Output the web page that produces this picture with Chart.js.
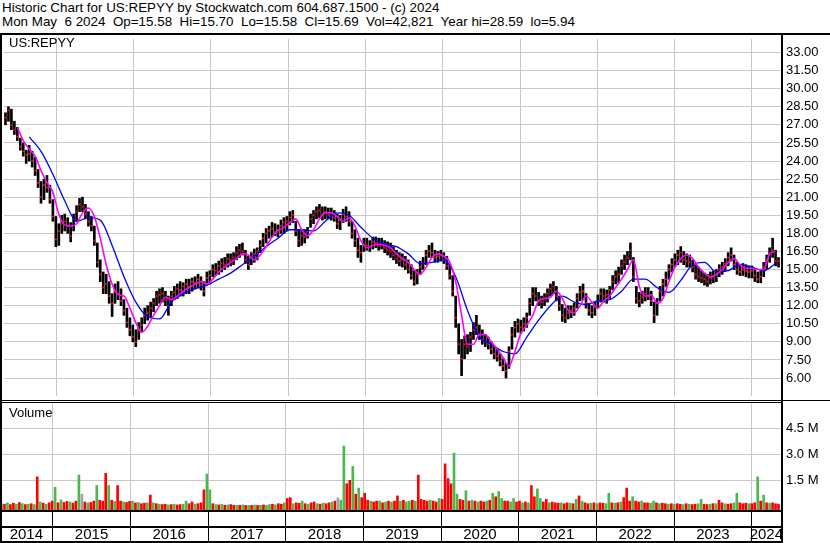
<!DOCTYPE html>
<html>
<head>
<meta charset="utf-8">
<script src="https://cdn.jsdelivr.net/npm/chart.js@4.4.1/dist/chart.umd.min.js"></script>
<style>
body { margin: 0; background: #fff; }
#box { position: relative; width: 830px; height: 543px; overflow: hidden; font-family: "Liberation Sans", Arial, sans-serif; color: #000; }
.t { position: absolute; font-size: 13px; white-space: pre; }
.k { position: absolute; background: #000; }
canvas { position: absolute; left: 0; }
</style>
</head>
<body>
<div id="box">
<canvas id="price" width="830" height="365" style="top:35px"></canvas>
<canvas id="vol" width="830" height="141" style="top:402px"></canvas>
<div class="t" style="left:2px;top:1px;line-height:14px;font-size:13.4px">Historic Chart for US:REPYY by Stockwatch.com 604.687.1500 - (c) 2024
Mon May  6 2024  Op=15.58  Hi=15.70  Lo=15.58  Cl=15.69  Vol=42,821  Year hi=28.59  lo=5.94</div>
<div class="t" style="left:9px;top:35px">US:REPYY</div>
<div class="t" style="left:9px;top:405px">Volume</div>
<div class="k" style="left:0;top:33px;width:830px;height:2px"></div>
<div class="k" style="left:0;top:400px;width:830px;height:1px"></div>
<div class="k" style="left:0;top:402px;width:782px;height:1px"></div>
<div class="k" style="left:0;top:33px;width:2px;height:510px"></div>
<div class="k" style="left:781px;top:33px;width:2px;height:510px"></div>
</div>
<script>
// Axis labels
const yearTicks = [2015, 2016, 2017, 2018, 2019, 2020, 2021, 2022, 2023, 2024];
const yearLabels = ["2014", "2015", "2016", "2017", "2018", "2019", "2020", "2021", "2022", "2023", "2024"];
const priceTicks = [6, 7.5, 9, 10.5, 12, 13.5, 15, 16.5, 18, 19.5, 21, 22.5, 24, 25.5, 27, 28.5, 30, 31.5, 33];
const volTicks = [1.5, 3.0, 4.5];

// One bar every two weeks, from May 6 2014 to May 6 2024
const firstBar = 2014.3408;
const barStep = 14 / 365.25;

// Price range of each bar
const barLow = [
  27.0,27.3,26.6,26.2,25.7,24.9,24.4,23.8,24.0,23.5,
  22.8,21.8,20.5,20.8,21.4,20.5,19.0,16.9,17.0,18.0,
  18.2,18.0,17.3,18.2,19.0,19.8,19.8,19.2,18.6,18.2,
  17.0,15.2,14.0,13.0,13.0,12.2,11.1,12.2,12.5,12.0,
  11.2,10.2,9.5,9.0,8.6,9.2,9.8,10.5,10.8,11.0,
  11.5,12.0,12.2,12.3,12.0,11.2,12.0,12.5,12.6,12.8,
  12.8,13.0,13.0,13.2,13.4,13.5,13.3,12.8,13.7,13.8,
  14.4,14.5,14.6,14.8,15.0,15.2,15.3,15.4,15.8,16.0,
  16.2,15.5,15.0,15.4,15.6,15.8,16.4,16.9,17.2,17.6,
  17.7,17.8,17.7,18.0,18.0,18.2,18.7,18.9,17.8,16.9,
  17.0,17.2,17.6,18.5,18.8,19.2,19.3,19.1,19.2,19.2,
  19.1,19.0,18.4,18.3,18.9,19.0,18.6,17.6,16.9,16.0,
  15.6,16.5,16.6,16.5,16.7,16.8,16.6,16.7,16.4,16.2,
  16.0,15.8,15.5,15.3,15.2,15.0,14.7,14.2,13.7,13.8,
  14.6,15.0,15.4,16.0,16.0,15.6,15.6,15.7,15.5,15.0,
  14.2,12.8,10.2,8.0,6.2,7.6,8.0,8.2,9.2,9.6,
  9.2,8.8,8.6,8.4,8.0,7.6,7.4,7.0,6.6,6.0,
  6.8,8.4,9.4,9.8,9.7,9.9,10.2,11.2,12.0,12.4,
  12.0,11.8,12.0,12.3,12.8,13.0,12.4,11.6,10.7,10.6,
  10.9,11.0,11.2,11.8,12.4,12.5,11.8,11.2,11.0,11.2,
  11.8,12.3,12.3,12.2,12.6,13.3,13.8,13.9,14.6,15.0,
  15.4,15.8,14.0,12.2,11.9,12.2,12.4,12.5,12.0,10.6,
  11.2,12.4,12.8,13.6,14.2,14.8,15.2,15.4,15.6,15.4,
  15.2,15.2,14.8,14.2,14.0,13.9,13.7,13.6,13.8,13.9,
  14.0,14.4,14.6,14.9,15.3,15.7,15.0,14.6,14.5,14.5,
  14.4,14.3,14.3,14.0,13.9,13.9,14.4,15.0,15.6,16.0,15.3,15.2
];
const barHigh = [
  28.0,28.5,28.3,27.3,26.8,25.9,25.5,24.9,25.3,24.8,
  24.3,23.3,22.3,22.5,22.8,22.0,20.8,19.4,18.8,19.5,
  19.6,19.3,18.9,19.6,20.3,20.9,21.0,20.4,19.8,19.4,
  18.6,17.2,15.8,14.8,14.6,14.0,13.0,13.8,14.0,13.4,
  12.5,11.8,11.0,10.4,10.0,10.6,11.0,11.8,12.0,12.3,
  12.6,13.2,13.4,13.5,13.2,12.8,13.2,13.6,13.8,14.0,
  13.9,14.2,14.2,14.3,14.4,14.6,14.4,14.0,14.8,14.9,
  15.4,15.5,15.7,15.9,16.0,16.3,16.3,16.4,16.9,17.1,
  17.2,16.6,16.1,16.4,16.7,16.8,17.4,18.0,18.4,18.6,
  18.9,18.8,18.7,19.1,19.3,19.4,19.8,19.9,19.0,18.3,
  18.3,18.3,18.5,19.6,19.9,20.2,20.4,20.2,20.2,20.1,
  20.1,19.9,19.6,19.5,20.0,20.2,19.8,19.0,18.3,17.6,
  17.0,17.6,17.6,17.4,17.7,17.7,17.6,17.6,17.4,17.3,
  17.2,16.9,16.6,16.4,16.3,16.1,15.8,15.4,14.9,15.0,
  15.7,16.0,16.6,17.0,17.2,16.6,16.5,16.6,16.4,16.1,
  15.4,14.5,12.8,10.5,9.2,9.5,9.6,9.8,10.6,11.2,
  10.4,10.0,9.6,9.4,9.0,8.6,8.4,8.0,7.6,7.2,
  8.6,10.2,10.7,10.9,10.8,11.0,11.4,12.6,13.5,13.5,
  13.1,12.8,13.0,13.4,13.8,14.0,13.6,12.8,12.1,11.8,
  12.0,12.0,12.2,13.0,13.6,13.8,13.0,12.2,12.0,12.3,
  12.9,13.4,13.4,13.3,13.6,14.5,14.9,15.2,15.8,16.2,
  16.5,17.2,16.0,13.6,13.1,13.2,13.5,13.5,13.2,12.3,
  12.6,13.6,14.2,14.8,15.4,15.9,16.3,16.6,16.9,16.5,
  16.3,16.2,15.8,15.4,15.2,14.9,14.7,14.6,14.8,14.9,
  15.0,15.4,15.6,15.9,16.4,16.8,16.2,15.6,15.4,15.5,
  15.4,15.3,15.3,15.0,14.8,14.9,15.6,16.2,16.8,17.6,16.6,16.0
];
const barClose = [
  27.6,28.2,27.0,26.6,26.0,25.2,24.8,24.5,24.6,24.0,
  23.2,22.2,21.0,22.0,21.8,20.8,19.4,17.5,18.2,18.8,
  19.0,18.6,17.8,19.2,19.8,20.4,20.2,19.6,19.0,18.6,
  17.4,15.6,14.6,13.5,13.8,12.8,12.2,13.2,13.0,12.4,
  11.6,10.6,10.0,9.4,9.0,10.0,10.4,11.2,11.4,11.8,
  12.2,12.8,12.9,13.0,12.5,12.0,12.8,13.1,13.4,13.3,
  13.6,13.8,13.6,14.0,13.9,14.2,13.7,13.2,14.3,14.5,
  15.0,14.9,15.3,15.5,15.4,15.9,15.8,16.0,16.4,16.6,
  16.5,15.8,15.4,16.0,16.3,16.5,17.0,17.6,18.0,18.2,
  18.4,18.1,18.3,18.6,18.9,19.0,19.3,19.5,18.2,17.4,
  17.8,17.7,18.2,19.2,19.5,19.8,19.9,19.6,19.8,19.5,
  19.7,19.3,18.8,19.1,19.6,19.4,19.0,18.0,17.4,16.6,
  16.4,17.1,17.0,16.9,17.3,17.2,17.0,17.1,16.8,16.6,
  16.5,16.2,15.9,15.7,15.8,15.4,15.0,14.5,14.0,14.6,
  15.2,15.5,16.2,16.5,16.4,16.0,16.1,16.2,15.8,15.3,
  14.5,13.2,11.0,8.8,7.6,8.8,8.6,9.4,10.0,10.2,
  9.6,9.2,9.0,8.8,8.4,8.0,7.8,7.4,7.0,6.6,
  8.2,9.6,10.2,10.5,10.2,10.5,11.0,12.2,13.0,12.8,
  12.4,12.3,12.6,13.0,13.4,13.6,12.8,12.0,11.2,11.0,
  11.4,11.6,11.8,12.6,13.1,13.2,12.2,11.6,11.4,11.9,
  12.4,13.0,12.8,12.9,13.3,14.0,14.4,14.6,15.3,15.6,
  16.0,16.6,14.4,12.6,12.4,12.7,13.0,12.8,12.4,11.2,
  12.2,13.2,13.8,14.2,15.0,15.4,15.8,16.2,16.4,15.8,
  15.7,15.6,15.2,14.6,14.4,14.3,14.2,14.0,14.3,14.4,
  14.6,15.0,15.2,15.5,16.0,16.2,15.4,15.0,14.8,15.0,
  14.9,14.8,14.9,14.5,14.2,14.4,15.2,15.8,16.3,16.6,15.7,15.7
];

// Magenta average, read at every second bar
const maFast = [
  null,null,26.8,25.7,25.0,24.4,23.2,22.2,21.4,19.6,
  18.7,18.6,18.8,19.7,20.1,19.4,17.6,15.4,13.8,12.9,
  12.8,11.8,10.6,9.8,10.3,11.2,12.0,12.7,12.5,12.8,
  13.2,13.5,13.8,14.0,13.8,14.2,14.8,15.2,15.6,15.9,
  16.3,16.2,15.8,16.2,16.9,17.7,18.2,18.5,18.9,19.2,
  18.3,17.8,18.3,19.2,19.7,19.7,19.4,19.0,19.3,18.6,
  17.4,16.8,17.0,17.1,17.0,16.8,16.3,15.9,15.6,15.0,
  14.6,15.2,16.0,16.3,16.1,15.6,14.0,11.2,8.8,8.8,
  9.6,9.6,9.0,8.4,7.7,7.0,8.2,9.7,10.4,11.2,
  12.4,12.6,12.7,13.2,12.6,11.6,11.4,12.0,12.8,12.3,
  11.8,12.4,12.8,13.5,14.2,15.0,15.8,13.6,12.8,12.9,
  12.2,12.6,14.0,15.2,15.9,16.2,15.9,15.2,14.7,14.4,
  14.6,15.0,15.6,15.9,15.4,15.1,15.1,15.0,15.0,16.3,16.5
];

// Blue average, read at every fourth bar
const maSlow = [
  null,null,26.0,24.8,22.9,20.7,19.0,19.3,19.1,17.0,
  14.4,12.3,11.1,10.9,12.3,13.0,13.4,13.7,14.2,14.7,
  15.4,16.1,16.9,17.6,18.3,18.3,18.2,19.0,19.7,19.5,
  18.5,17.6,17.1,16.9,16.3,15.5,15.6,15.8,14.4,11.6,
  9.4,8.8,8.2,8.0,9.4,10.8,12.0,12.8,12.3,12.1,
  12.4,12.5,13.2,14.2,14.2,13.5,13.1,14.1,15.4,15.6,
  14.8,14.9,15.4,15.2,14.9,15.5
];

// Volume in millions, per bar
const volume = [
  0.15,0.12,0.2,0.1,0.18,0.12,0.22,0.15,0.1,0.12,
  0.15,0.1,1.7,0.25,0.18,0.12,0.2,0.3,1.1,0.2,
  0.37,0.22,0.28,0.25,0.18,0.3,1.8,0.7,0.25,0.2,
  0.22,0.3,1.2,0.35,0.3,1.9,1.2,0.35,0.28,1.2,
  0.3,0.25,0.22,0.28,0.3,0.2,0.22,0.15,0.18,0.2,
  0.65,0.2,0.15,0.12,0.1,0.12,0.08,0.1,0.12,0.08,
  0.1,0.12,0.3,0.15,0.25,0.12,0.15,0.2,0.95,1.86,
  0.95,0.15,0.1,0.08,0.12,0.06,0.08,0.1,0.06,0.05,
  0.06,0.08,0.05,0.06,0.05,0.07,0.05,0.06,0.08,0.06,
  0.1,0.12,0.08,0.15,0.12,0.2,0.45,0.5,0.15,0.2,
  0.18,0.3,0.15,0.12,0.2,0.25,0.15,0.12,0.18,0.15,
  0.2,0.25,0.3,0.48,0.35,3.48,1.3,1.5,2.3,0.7,
  1.05,0.5,0.75,0.35,0.3,0.25,0.3,0.3,0.2,0.25,
  0.3,0.25,0.3,0.6,0.3,0.35,0.25,0.3,0.35,0.3,
  1.8,0.4,0.35,0.3,0.35,0.3,0.25,0.45,0.4,2.45,
  1.6,1.3,3.07,0.7,0.4,0.35,0.9,0.3,0.35,0.3,
  0.25,0.3,0.25,0.3,0.35,0.75,0.55,0.85,0.45,0.3,
  0.3,0.25,0.45,0.25,0.3,0.2,0.25,0.2,1.2,0.55,
  1.0,0.45,0.25,0.4,0.2,0.25,0.2,0.18,0.2,0.15,
  0.2,0.18,0.15,0.4,0.6,0.3,0.2,0.15,0.18,0.2,
  0.15,0.2,0.18,0.15,0.75,0.2,0.18,0.2,0.25,0.5,
  1.05,0.3,0.55,0.3,0.25,0.3,0.2,0.2,0.18,0.3,
  0.2,0.15,0.18,0.15,0.12,0.15,0.12,0.15,0.12,0.1,
  0.15,0.12,0.1,0.12,0.15,0.4,0.12,0.1,0.12,0.15,
  0.15,0.35,0.2,0.15,0.12,0.15,0.2,0.75,0.2,0.15,
  0.18,0.15,0.15,0.2,1.7,0.3,0.65,0.2,0.18,0.2,0.15,0.12
];
// g = up, r = down, n = unchanged
const volumeDir =
  "grgrrgrgrg" + "rgrgrgrrgr" + "grrgrrgnrg" + "rrgrrrgrgr" + "rgrrgrgrrg" +
  "rgrgrrgrgr" + "rggrrgrrrg" + "grgrgrgrrg" + "rgrgrgrgrg" + "grgrrgrrgr" +
  "rgrgrrgrgr" + "rgrnggrrgr" + "grrrgrrgrg" + "rgrrgrggrg" + "rrrrgrrgrr" +
  "rrggrrgrgr" + "grrgrgrggr" + "rggrrgrgrr" + "ggrrgrrrgr" + "rgrgrgrrgr" +
  "grrggrgrgr" + "rrgrrgrrgg" + "rgrrgrgrrg" + "rgrrggrrgr" + "grrgrrggrr" +
  "rgrrgrgrgrrr";

const xMin = 2014.3215, xMax = 2024.377;
const volMin = -0.214, volMax = 6.018;
const barTimes = barLow.map((v, i) => firstBar + i * barStep);
const dirColor = { g: "#4cb84c", r: "#ff0000", n: "#a0a0a0" };

Chart.defaults.font.family = "'Liberation Sans', Arial, sans-serif";
Chart.defaults.font.size = 13;
Chart.defaults.color = "#000";

const gridColor = "#c8c8c8";

// keep the plot area exactly where the frame is
function noPad(s) {
  s.paddingLeft = 0; s.paddingRight = 0; s.paddingTop = 0; s.paddingBottom = 0;
}

function yearAxis() {
  return {
    type: "linear", min: xMin, max: xMax, offset: false,
    afterBuildTicks: s => { s.ticks = yearTicks.map(v => ({ value: v })); },
    afterFit: s => { s.height = 0; noPad(s); },
    grid: { color: gridColor, drawTicks: false, offset: false },
    border: { display: false },
    ticks: { display: false }
  };
}

function valueAxis(min, max, ticks, fmt) {
  return {
    position: "right", min: min, max: max, beginAtZero: false,
    afterBuildTicks: s => { s.ticks = ticks.map(v => ({ value: v })); },
    afterFit: s => { s.width = 49; noPad(s); },
    grid: { color: gridColor, drawTicks: false },
    border: { display: false },
    ticks: { padding: 5, callback: fmt }
  };
}

// Price panel
new Chart(document.getElementById("price"), {
  type: "bar",
  data: {
    datasets: [
      {
        type: "line",
        data: maFast.map((v, j) => ({ x: barTimes[2 * j], y: v })),
        borderColor: "#ff00ff", borderWidth: 1.6, pointRadius: 0,
        cubicInterpolationMode: "monotone", order: 1
      },
      {
        type: "line",
        data: maSlow.map((v, k) => ({ x: barTimes[4 * k], y: v })),
        borderColor: "#0000ff", borderWidth: 1.3, pointRadius: 0,
        cubicInterpolationMode: "monotone", order: 2
      },
      {
        type: "line",
        data: barClose.map((v, i) => ({ x: barTimes[i], y: v })),
        showLine: false, pointStyle: "rect", pointRadius: 1.3,
        backgroundColor: "#ff0000", borderWidth: 0, order: 3
      },
      {
        data: barLow.map((v, i) => ({ x: barTimes[i], y: [v, barHigh[i]] })),
        backgroundColor: "#000", barThickness: 2, order: 4
      }
    ]
  },
  options: {
    responsive: false, animation: false, events: [],
    layout: { padding: 0 },
    plugins: { legend: { display: false }, tooltip: { enabled: false } },
    scales: {
      x: yearAxis(),
      y: valueAxis(4.51, 34.12, priceTicks, v => v.toFixed(2))
    }
  }
});

// Lines and separators of the date rows under the volume panel
const dateRows = {
  id: "dateRows",
  afterDraw(chart) {
    const ctx = chart.ctx, a = chart.chartArea, xs = chart.scales.x;
    ctx.save();
    ctx.fillStyle = "#000";
    ctx.fillRect(0, a.bottom, a.right + 2, 2);
    ctx.fillRect(0, a.bottom + 16, a.right + 2, 2);
    ctx.fillRect(0, chart.height - 2, a.right + 2, 2);
    yearTicks.forEach(v => {
      const px = Math.round(xs.getPixelForValue(v) - 0.5);
      ctx.fillRect(px, a.bottom + 2, 1, chart.height - a.bottom - 4);
    });
    ctx.restore();
  }
};

// Volume panel
new Chart(document.getElementById("vol"), {
  type: "bar",
  data: {
    datasets: [{
      data: volume.map((v, i) => ({ x: barTimes[i], y: v })),
      backgroundColor: volume.map((v, i) => dirColor[volumeDir[i]] || dirColor.r),
      barThickness: 2, base: volMin
    }]
  },
  options: {
    responsive: false, animation: false, events: [],
    layout: { padding: 0 },
    plugins: { legend: { display: false }, tooltip: { enabled: false } },
    scales: {
      x: yearAxis(),
      yr: {
        type: "linear", position: "bottom", min: xMin, max: xMax, offset: false,
        afterBuildTicks: s => {
          const mids = [(xMin + yearTicks[0]) / 2];
          for (let i = 0; i < yearTicks.length - 1; i++) mids.push((yearTicks[i] + yearTicks[i + 1]) / 2);
          mids.push((yearTicks[yearTicks.length - 1] + xMax) / 2);
          s.ticks = mids.map(v => ({ value: v }));
        },
        afterFit: s => { s.height = 33; noPad(s); },
        grid: { display: false, drawTicks: false },
        border: { display: false },
        ticks: {
          autoSkip: false, maxRotation: 0, padding: 16,
          font: { family: "'Liberation Sans Narrow', 'Liberation Sans', sans-serif", size: 15 },
          callback: (v, i) => yearLabels[i]
        }
      },
      y: valueAxis(volMin, volMax, volTicks, v => v.toFixed(1) + " M")
    }
  },
  plugins: [dateRows]
});
</script>
</body>
</html>
